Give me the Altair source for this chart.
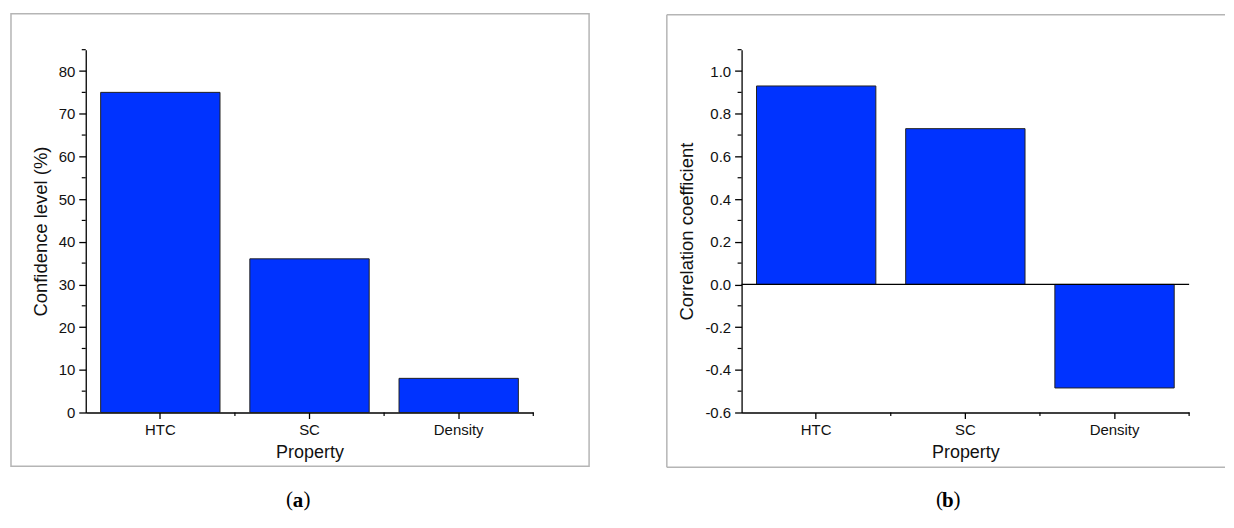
import altair as alt
import pandas as pd

categories = ["HTC", "SC", "Density"]
confidence = [75, 36, 8]
correlation = [0.93, 0.73, -0.485]

conf_ticks = [0, 10, 20, 30, 40, 50, 60, 70, 80]
conf_minor = [5, 15, 25, 35, 45, 55, 65, 75, 85]
corr_ticks = [-0.6, -0.4, -0.2, 0.0, 0.2, 0.4, 0.6, 0.8, 1.0]
corr_minor = [-0.5, -0.3, -0.1, 0.1, 0.3, 0.5, 0.7, 0.9, 1.1]

W, H = 449, 364
FONT = "Liberation Sans"
BLUE = "#0033ff"
FRAME = "#b5b5b5"
# half of the inner gap between bars, in pixels (0.1 of a band step)
GAP_HALF = 0.1 * W / 3


def panel(values, ylabel, ydomain, yticks, yminor, label_expr, letter, cap_x, frame_right, closed):
    df = pd.DataFrame({"cat": categories, "value": values})
    minor_df = pd.DataFrame({"v": yminor})
    one = pd.DataFrame({"k": [0]})

    xscale = alt.Scale(domain=categories, paddingInner=0.2, paddingOuter=0.1)
    xaxis = alt.Axis(title="Property", labelAngle=0, tickSize=6, labelPadding=4,
                     titlePadding=6, labelFontSize=15, titleFontSize=18)
    yscale = alt.Scale(domain=ydomain, nice=False, zero=False)
    yaxis = alt.Axis(title=ylabel, values=yticks, labelExpr=label_expr, tickSize=7,
                     labelPadding=4, titlePadding=8, labelFontSize=15, titleFontSize=18.5)

    bars = alt.Chart(df).mark_bar(color=BLUE, stroke="#222222", strokeWidth=1).encode(
        x=alt.X("cat:N", scale=xscale, axis=xaxis, sort=categories),
        y=alt.Y("value:Q", scale=yscale, axis=yaxis),
        y2=alt.datum(0),
    )

    minor = alt.Chart(minor_df).mark_rule(color="black", strokeWidth=1.2).encode(
        y=alt.Y("v:Q", scale=yscale, axis=yaxis),
        x=alt.value(-4),
        x2=alt.value(0),
    )

    bounds = alt.Chart(df).mark_rule(color="black", strokeWidth=1.2, xOffset=GAP_HALF).encode(
        x=alt.X("cat:N", scale=xscale, axis=xaxis, sort=categories, bandPosition=1),
        y=alt.value(H),
        y2=alt.value(H + 3.5),
    )

    layers = [bars, minor, bounds]

    if ydomain[0] < 0:
        zero = alt.Chart(one).mark_rule(color="black", strokeWidth=1.3).encode(
            y=alt.Y("z:Q", scale=yscale, axis=yaxis),
        ).transform_calculate(z="0")
        layers.append(zero)

    if closed:
        frame = alt.Chart(one).mark_rect(fill="transparent", stroke=FRAME, strokeWidth=1.5).encode(
            x=alt.value(-75), x2=alt.value(frame_right), y=alt.value(-36), y2=alt.value(418)
        )
        layers.append(frame)
    else:
        top = alt.Chart(one).mark_rule(color=FRAME, strokeWidth=1.5).encode(
            x=alt.value(-75), x2=alt.value(frame_right), y=alt.value(-35))
        bottom = alt.Chart(one).mark_rule(color=FRAME, strokeWidth=1.5).encode(
            x=alt.value(-75), x2=alt.value(frame_right), y=alt.value(419))
        left = alt.Chart(one).mark_rule(color=FRAME, strokeWidth=1.5).encode(
            x=alt.value(-75), y=alt.value(-35), y2=alt.value(419))
        layers += [top, bottom, left]

    cap_font = "Liberation Serif"
    cap_y = 452
    lp = alt.Chart(one).mark_text(text="(", font=cap_font, fontSize=21, align="right",
                                  baseline="middle", color="black").encode(
        x=alt.value(cap_x - 5), y=alt.value(cap_y))
    lt = alt.Chart(one).mark_text(text=letter, font=cap_font, fontSize=21, fontWeight="bold",
                                  align="center", baseline="middle", color="black").encode(
        x=alt.value(cap_x), y=alt.value(cap_y + 1))
    rp = alt.Chart(one).mark_text(text=")", font=cap_font, fontSize=21, align="left",
                                  baseline="middle", color="black").encode(
        x=alt.value(cap_x + 5.5), y=alt.value(cap_y))
    layers += [lp, lt, rp]

    return alt.layer(*layers).properties(width=W, height=H)


left = panel(confidence, "Confidence level (%)", [0, 85], conf_ticks, conf_minor,
             "format(datum.value, 'd')", "a", 213, 505, True)
right = panel(correlation, "Correlation coefficient", [-0.6, 1.1], corr_ticks, corr_minor,
              "datum.value < -0.001 ? '-' + format(-datum.value, '.1f') : format(abs(datum.value), '.1f')",
              "b", 207, 485, False)

chart = alt.hconcat(left, right, spacing=76).properties(
    padding={"left": 2, "top": 4, "right": 0, "bottom": 0}
).configure(
    font=FONT,
).configure_view(
    stroke=None
).configure_axis(
    grid=False,
    domainColor="black",
    domainWidth=1.3,
    tickColor="black",
    tickWidth=1.3,
    labelColor="#111111",
    titleColor="#111111",
    labelFont=FONT,
    titleFont=FONT,
    titleFontWeight="normal",
)

chart.save("out.html", embed_options={"renderer": "svg", "actions": False})
